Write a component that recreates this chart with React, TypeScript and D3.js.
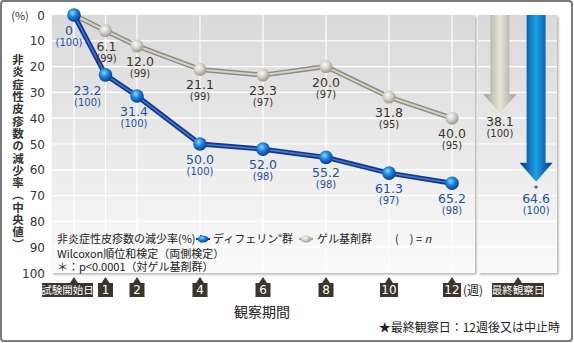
import React from "react";
import * as d3 from "d3";

const weeks = [0, 1, 2, 4, 6, 8, 10, 12];
const weekLabels = ["試験開始日", "1", "2", "4", "6", "8", "10", "12"];
const differinValues = [0, 23.2, 31.4, 50.0, 52.0, 55.2, 61.3, 65.2];
const differinN = [100, 100, 100, 100, 98, 98, 97, 98];
const gelValues = [0, 6.1, 12.0, 21.1, 23.3, 20.0, 31.8, 40.0];
const gelN = [100, 99, 99, 99, 97, 97, 95, 95];
const finalGroups = ["ゲル基剤群", "ディフェリン群"];
const finalValues = [38.1, 64.6];
const finalN = [100, 100];
const yTicks = [0, 10, 20, 30, 40, 50, 60, 70, 80, 90, 100];
const yTitle = "非炎症性皮疹数の減少率（中央値）";

const JP = "'Noto Sans CJK JP', sans-serif";
const NUM = "'DejaVu Sans', sans-serif";

export default function App() {
  const x = d3.scaleLinear().domain([0, 12]).range([74, 452]);
  const y = d3.scaleLinear().domain([0, 100]).range([15, 273]);
  const fx = d3.scaleBand().domain(finalGroups).range([480, 556]).padding(0.1);

  const line = d3
    .line<number>()
    .x((_, i) => x(weeks[i]))
    .y((v) => y(v));

  const blueDx = [-5, -18, -3, 0, 0, 0, 0, 0];
  const grayDx = [0, 1, 3, 0, 0, 0, 0, 0];

  const shaftW = 19;
  const headW = 33;
  const headH = 19;
  const arrowPath = (cx: number, v: number) => {
    const top = y(0);
    const tip = y(v);
    const hs = tip - headH;
    return `M${cx - shaftW / 2},${top} L${cx + shaftW / 2},${top} L${cx + shaftW / 2},${hs} L${cx + headW / 2},${hs} L${cx},${tip} L${cx - headW / 2},${hs} L${cx - shaftW / 2},${hs} Z`;
  };

  return (
    <svg
      width={574}
      height={343}
      style={{ position: "absolute", left: 0, top: 0, background: "#fff" }}
    >
      <defs>
        <linearGradient id="panelBg" x1="0" y1="0" x2="0" y2="1">
          <stop offset="0" stopColor="#d9d9d9" />
          <stop offset="0.6" stopColor="#ececec" />
          <stop offset="1" stopColor="#fbfbfb" />
        </linearGradient>
        <radialGradient id="bluePt" cx="0.4" cy="0.35" r="0.65">
          <stop offset="0" stopColor="#8ad8ff" />
          <stop offset="0.45" stopColor="#1f86dc" />
          <stop offset="1" stopColor="#0b3c96" />
        </radialGradient>
        <radialGradient id="grayPt" cx="0.4" cy="0.35" r="0.65">
          <stop offset="0" stopColor="#fbfaf4" />
          <stop offset="0.5" stopColor="#d4d2c8" />
          <stop offset="1" stopColor="#9a978c" />
        </radialGradient>
        <linearGradient id="grayArrowH" x1="0" y1="0" x2="1" y2="0">
          <stop offset="0" stopColor="#9a9a9a" />
          <stop offset="0.5" stopColor="#e8e6d6" />
          <stop offset="1" stopColor="#9a9a9a" />
        </linearGradient>
        <linearGradient id="blueArrowH" x1="0" y1="0" x2="1" y2="0">
          <stop offset="0" stopColor="#0a3486" />
          <stop offset="0.5" stopColor="#1aa2e4" />
          <stop offset="1" stopColor="#0a3486" />
        </linearGradient>
        <filter id="shadow" x="-5%" y="-5%" width="110%" height="110%">
          <feDropShadow dx="1.5" dy="1.5" stdDeviation="1.2" floodColor="#000" floodOpacity="0.3" />
        </filter>
      </defs>

      {/* outer frame */}
      <rect x={1} y={1} width={571} height={340} rx={3} fill="#fff" stroke="#7a7a7a" strokeWidth={2} />

      {/* main panel */}
      <rect x={52} y={y(0)} width={423} height={y(100) - y(0)} fill="url(#panelBg)" filter="url(#shadow)" />
      {/* final panel */}
      <rect x={478} y={y(0)} width={79} height={y(100) - y(0)} fill="url(#panelBg)" filter="url(#shadow)" />

      {/* gridlines */}
      {yTicks.slice(1, -1).map((t) => (
        <g key={"gy" + t}>
          <line x1={52} x2={475} y1={y(t)} y2={y(t)} stroke="#fff" strokeWidth={1.2} />
          <line x1={478} x2={557} y1={y(t)} y2={y(t)} stroke="#fff" strokeWidth={1.2} />
        </g>
      ))}
      {weeks.map((w) => (
        <line key={"gx" + w} x1={x(w)} x2={x(w)} y1={y(0)} y2={y(100)} stroke="#fff" strokeWidth={1.2} />
      ))}

      {/* y axis ticks */}
      {yTicks.map((t) => (
        <text key={"yt" + t} x={45} y={y(t) + 4.5} textAnchor="end" fontSize={12} fill="#333" fontFamily={NUM}>
          {t}
        </text>
      ))}
      <text x={20} y={y(0) + 4.5} textAnchor="middle" fontSize={11} fill="#333" fontFamily={JP}>
        (%)
      </text>

      {/* y title vertical */}
      <text
        x={18}
        y={54}
        writingMode="vertical-rl"
        style={{ writingMode: "vertical-rl", letterSpacing: "0.8px" } as React.CSSProperties}
        fontSize={11.5}
        fontWeight="bold"
        fill="#333"
        fontFamily={JP}
      >
        {yTitle}
      </text>

      {/* gel line */}
      <path d={line(gelValues) || ""} fill="none" stroke="#8e8b80" strokeWidth={5} strokeLinejoin="round" />
      <path d={line(gelValues) || ""} fill="none" stroke="#d6d3c6" strokeWidth={2} strokeLinejoin="round" />
      {gelValues.map((v, i) => (
        <circle key={"gp" + i} cx={x(weeks[i])} cy={y(v)} r={6.5} fill="url(#grayPt)" />
      ))}

      {/* differin line */}
      <path d={line(differinValues) || ""} fill="none" stroke="#16348a" strokeWidth={5} strokeLinejoin="round" />
      <path d={line(differinValues) || ""} fill="none" stroke="#3c78d4" strokeWidth={1.6} strokeLinejoin="round" />
      {differinValues.map((v, i) => (
        <circle key={"bp" + i} cx={x(weeks[i])} cy={y(v)} r={6.8} fill="url(#bluePt)" />
      ))}

      {/* gel labels */}
      {gelValues.map((v, i) =>
        i === 0 ? null : (
          <g key={"gl" + i}>
            <text x={x(weeks[i]) + grayDx[i]} y={y(v) + 20} textAnchor="middle" fontSize={12.5} fill="#3a3129" fontFamily={NUM}>
              {v.toFixed(1)}
            </text>
            <text x={x(weeks[i]) + grayDx[i]} y={y(v) + 31} textAnchor="middle" fontSize={10} fill="#3a3129" fontFamily={NUM}>
              ({gelN[i]})
            </text>
          </g>
        )
      )}

      {/* differin labels */}
      {differinValues.map((v, i) => (
        <g key={"bl" + i}>
          <text x={x(weeks[i]) + blueDx[i]} y={y(v) + 20} textAnchor="middle" fontSize={12.5} fill="#24509f" fontFamily={NUM}>
            {i === 0 ? "0" : v.toFixed(1)}
          </text>
          <text x={x(weeks[i]) + blueDx[i]} y={y(v) + 31} textAnchor="middle" fontSize={10} fill="#24509f" fontFamily={NUM}>
            ({differinN[i]})
          </text>
        </g>
      ))}

      {/* final arrows */}
      {finalValues.map((v, i) => {
        const cx = (fx(finalGroups[i]) as number) + fx.bandwidth() / 2;
        const blue = i === 1;
        const col = blue ? "#24509f" : "#3a3129";
        return (
          <g key={"fa" + i}>
            <path d={arrowPath(cx, v)} fill={blue ? "url(#blueArrowH)" : "url(#grayArrowH)"} />
            {blue && (
              <text x={cx} y={y(v) + 10} textAnchor="middle" fontSize={9} fill="#111" fontFamily={NUM}>
                *
              </text>
            )}
            <text x={cx} y={y(v) + (blue ? 21 : 13)} textAnchor="middle" fontSize={12.5} fill={col} fontFamily={NUM}>
              {v.toFixed(1)}
            </text>
            <text x={cx} y={y(v) + (blue ? 32 : 24)} textAnchor="middle" fontSize={10} fill={col} fontFamily={NUM}>
              ({finalN[i]})
            </text>
          </g>
        );
      })}

      {/* legend */}
      <g fontFamily={JP} fontSize={11} fill="#222">
        <text x={57} y={243}>非炎症性皮疹数の減少率(%)：</text>
        <line x1={196} x2={210} y1={239} y2={239} stroke="#16348a" strokeWidth={2} />
        <ellipse cx={203} cy={239} rx={5.5} ry={3.5} fill="url(#bluePt)" />
        <text x={213} y={243}>ディフェリン<tspan fontSize={8} dy={-3}>®</tspan><tspan dy={3}>群</tspan></text>
        <line x1={299} x2={313} y1={239} y2={239} stroke="#a8a69c" strokeWidth={2} />
        <ellipse cx={306} cy={239} rx={5.5} ry={3.5} fill="url(#grayPt)" />
        <text x={317} y={243}>ゲル基剤群</text>
        <text x={395} y={243}>(　) = <tspan fontStyle="italic">n</tspan></text>
        <text x={57} y={258}>Wilcoxon順位和検定（両側検定）</text>
        <text x={57} y={271}>＊：p&lt;0.0001（対ゲル基剤群）</text>
      </g>

      {/* x axis labels */}
      {weekLabels.map((lab, i) => {
        const cx = x(weeks[i]);
        const w = i === 0 ? 51 : lab.length > 1 ? 18 : 15;
        const bx = i === 0 ? cx - 32 : cx - w / 2;
        return (
          <g key={"xl" + i}>
            <path d={`M${cx - 4},283 L${cx},277 L${cx + 4},283 Z`} fill="#3d342c" />
            <rect x={bx} y={283} width={w} height={14} fill="#3d342c" />
            <text x={bx + w / 2} y={294} textAnchor="middle" fontSize={i === 0 ? 10.5 : 12} fill="#fff" fontFamily={i === 0 ? JP : NUM}>
              {lab}
            </text>
          </g>
        );
      })}
      <text x={463} y={295} fontSize={12} fill="#222" fontFamily={JP}>(週)</text>
      {(() => {
        const cx = 518;
        return (
          <g>
            <path d={`M${cx - 4},283 L${cx},277 L${cx + 4},283 Z`} fill="#3d342c" />
            <rect x={492} y={283} width={52} height={14} fill="#3d342c" />
            <text x={518} y={294} textAnchor="middle" fontSize={10.5} fill="#fff" fontFamily={JP}>最終観察日</text>
          </g>
        );
      })()}

      <text x={262} y={317} textAnchor="middle" fontSize={14} fill="#222" fontFamily={JP}>観察期間</text>
      <text x={560} y={332} textAnchor="end" fontSize={12} fill="#222" fontFamily={JP}>★最終観察日：12週後又は中止時</text>
    </svg>
  );
}
